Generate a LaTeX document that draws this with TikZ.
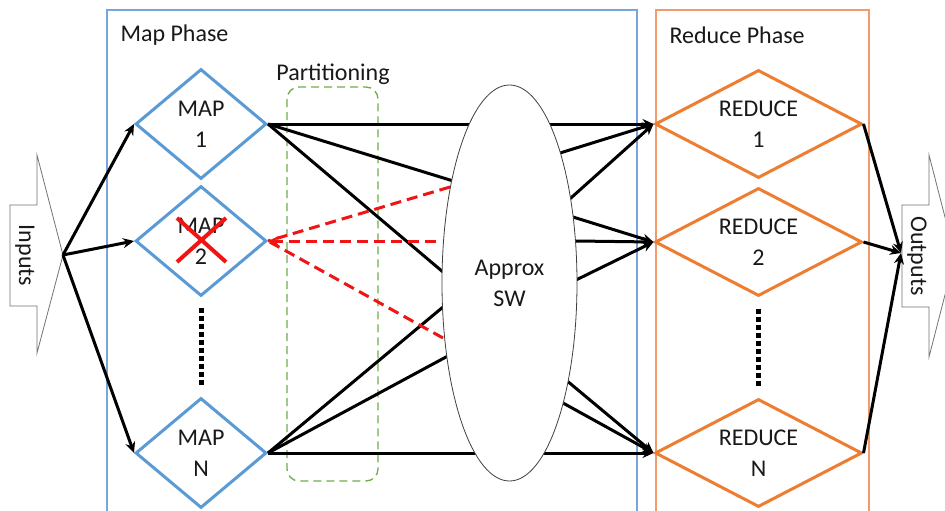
\documentclass[tikz,border=0pt]{standalone}
\usepackage{fontspec}
\setmainfont{Carlito}
\usetikzlibrary{calc, positioning}
\usetikzlibrary{arrows.meta}
\usetikzlibrary{shapes.geometric}

\definecolor{mapblue}{RGB}{91,155,213}
\definecolor{redorange}{RGB}{237,125,49}
\definecolor{boxblue}{RGB}{120,165,220}
\definecolor{boxorange}{RGB}{240,155,105}
\definecolor{partgreen}{RGB}{112,173,71}
\definecolor{failred}{RGB}{240,20,20}
\definecolor{txt}{RGB}{25,25,25}

\tikzset{
  mapnode/.style={diamond, draw=mapblue, line width=3pt, fill=white, inner sep=0pt,
    minimum width=131pt, minimum height=110pt, aspect=1.2, align=center},
  rednode/.style={mapnode, draw=redorange, minimum width=207pt, minimum height=108pt, aspect=2},
  link/.style={line width=3pt, black},
  tip/.style={-{Stealth[length=11pt, width=10pt]}},
  fail/.style={line width=3pt, failred, dash pattern=on 11pt off 6pt},
  dots/.style={line width=5pt, black, dash pattern=on 5pt off 3pt},
  blockarrow/.style={draw=black!55, line width=0.8pt, fill=white},
}

\begin{document}
\begin{tikzpicture}[x=1pt, y=-1pt, font=\fontsize{24}{31}\selectfont, text=txt]
\clip (0,0) rectangle (945,511);
\fill[white] (0,0) rectangle (945,511);
\def\mapx{201}
\def\redx{758.5}
% phases
\draw[boxblue, line width=1.1pt] (107,10) rectangle (637,530);
\draw[boxorange, line width=1.1pt] (656,10) rectangle (869,530);
\node[anchor=west] (mapphase) at (117,35.5) {Map Phase};
\node[anchor=west] (redphase) at (666,35.5) {Reduce Phase};
% partitioning
\draw[partgreen, line width=1.3pt, dash pattern=on 8pt off 5pt, rounded corners=12pt] (287,87) rectangle (378,481);
\node (parttext) at (333,74.5) {Partitioning};
% workers
\node[mapnode] (map1) at (\mapx,124) {MAP\\1};
\node[mapnode] (map2) at (\mapx,241) {MAP\\2};
\node[mapnode] (mapN) at (\mapx,453) {MAP\\N};
\node[rednode] (red1) at (\redx,124) {REDUCE\\1};
\node[rednode] (red2) at (\redx,242) {REDUCE\\2};
\node[rednode] (redN) at (\redx,453) {REDUCE\\N};
\draw[dots] ($(map2.south)+(0,10)$) -- ($(mapN.north)+(0,-12)$);
\draw[dots] ($(red2.south)+(0,11)$) -- ($(redN.north)+(0,-11)$);
\draw[failred, line width=4pt] ($(map2)+(-24,-23)$) -- ($(map2)+(25,21)$);
\draw[failred, line width=4pt] ($(map2)+(-24,21)$) -- ($(map2)+(25,-23)$);
% switch entry and exit points
\coordinate (in1) at (450,180);
\coordinate (in2) at (443,272);
\coordinate (in3) at (443,307);
\coordinate (in4) at (446,357);
\coordinate (out1) at (560,153);
\coordinate (out2) at (572,197);
\coordinate (out3) at (573,217);
\coordinate (out4) at (576,241);
\coordinate (out5) at (576,280);
\coordinate (out6) at (566,380);
\coordinate (out7) at (563,403);
\coordinate (fail1) at (450,187);
\coordinate (fail2) at (436,241);
\coordinate (fail3) at (443,338);
% shuffle
\draw[link, tip] (map1.east) -- (red1.west);
\draw[link, tip] (mapN.east) -- (redN.west);
\draw[link, shorten >=-6pt] (map1.east) -- (in1);
\draw[link, shorten >=-6pt] (map1.east) -- (in2);
\draw[link, shorten >=-6pt] (mapN.east) -- (in3);
\draw[link, shorten >=-6pt] (mapN.east) -- (in4);
\draw[link, tip, shorten <=-6pt] (out1) -- (red1.west);
\draw[link, tip, shorten <=-6pt] (out2) -- (red1.west);
\draw[link, tip, shorten <=-6pt] (out3) -- (red2.west);
\draw[link, tip, shorten <=-6pt] (out4) -- (red2.west);
\draw[link, tip, shorten <=-6pt] (out5) -- (red2.west);
\draw[link, tip, shorten <=-6pt] (out6) -- (redN.west);
\draw[link, tip, shorten <=-6pt] (out7) -- (redN.west);
% re-execution of the lost map
\draw[fail] (fail1) -- (map2.east);
\draw[fail, -{Stealth[length=11pt, width=10pt]}] (fail2) -- (map2.east);
\draw[fail] (fail3) -- (map2.east);
\node[ellipse, draw=black!75, line width=0.8pt, fill=white, minimum width=135pt, minimum height=396pt, align=center] (sw) at (509.5,283) {Approx\\SW};
% inputs and outputs
\draw[blockarrow] (10,205) -- (37,205) -- (37,155) -- (63,255) -- (37,353) -- (37,306) -- (10,306) -- cycle;
\node[rotate=-90] (inputs) at (25,255.5) {Inputs};
\coordinate (intip) at (63,255);
\draw[blockarrow] (902,205) -- (929,205) -- (929,155) -- (955,256) -- (929,357) -- (929,307) -- (902,307) -- cycle;
\node[rotate=-90] (outputs) at (917,256) {Outputs};
\coordinate (outtip) at (901,253);
\draw[link, tip] (intip) -- (map1.west);
\draw[link, tip] (intip) -- (map2.west);
\draw[link, tip] (intip) -- (mapN.west);
\draw[link, tip] (red1.east) -- (outtip);
\draw[link, tip] (red2.east) -- (outtip);
\draw[link, tip] (redN.east) -- (outtip);
\end{tikzpicture}
\end{document}
